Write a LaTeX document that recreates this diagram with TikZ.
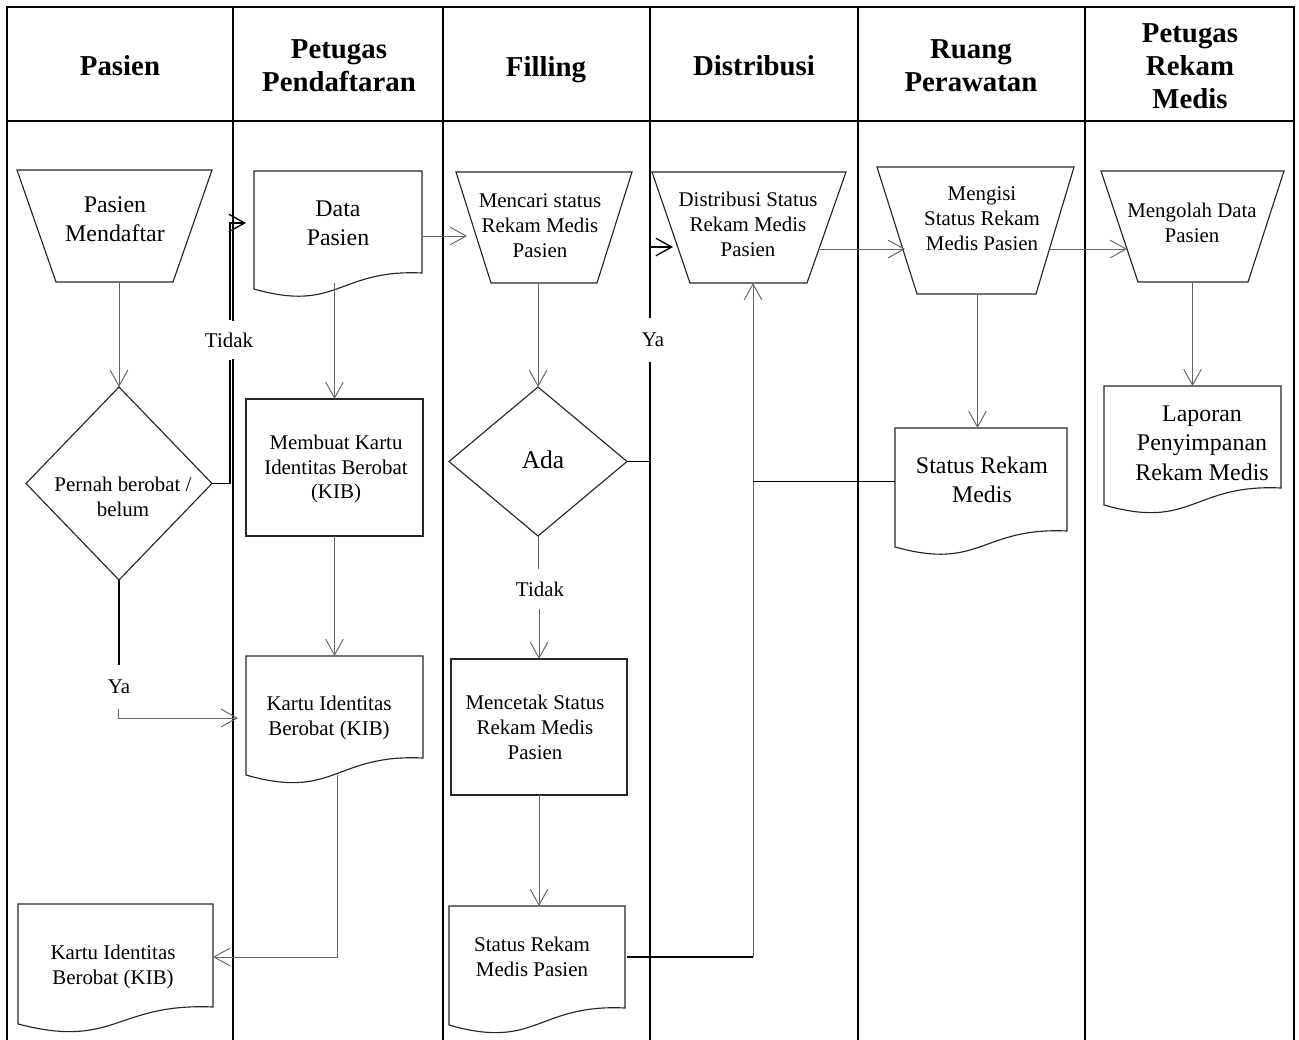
\documentclass[tikz,border=0pt]{standalone}
\usepackage{fontspec}
\setmainfont{Liberation Serif}
\usetikzlibrary{arrows.meta,calc,fit}
\newcommand\trapz[7]{%
  \draw[shp] (#2,#4) -- (#3,#4) -- (#6,#7) -- (#5,#7) -- cycle;
  \node[box,fit={(#2,#4) (#3,#7)}] (#1) {};}
\newcommand\docz[6]{%
  \draw[shp] (#2,#5) -- (#2,#3) -- (#4,#3) -- (#4,#6)
    .. controls ({(#2+#4)/2},{#6-0.25*(#5-#6)}) and ({(#2+#4)/2},{#5+1.5*(#5-#6)}) .. (#2,#5) -- cycle;
  \node[box,fit={(#2,#3) (#4,#5)}] (#1) {};}
\newcommand\diam[5]{%
  \draw[shp] ({#2},{#3-#5}) -- ({#2+#4},{#3}) -- ({#2},{#3+#5}) -- ({#2-#4},{#3}) -- cycle;
  \node[box,fit={({#2-#4},{#3-#5}) ({#2+#4},{#3+#5})}] (#1) {};}
\begin{document}
\begin{tikzpicture}[x=0.02cm,y=-0.02cm,
  lane/.style={line width=1.5pt,draw=black},
  shp/.style={draw=black!85,line width=0.65pt},
  box/.style={inner sep=0pt,outer sep=0pt},
  conn/.style={draw=black!60,line width=0.55pt,-{Straight Barb[length=9pt,width=10pt]}},
  connb/.style={draw=black,line width=0.75pt,-{Straight Barb[length=9pt,width=10pt]}},
  plain/.style={draw=black,line width=0.75pt},
  plaing/.style={draw=black!60,line width=0.55pt},
  hd/.style={font=\bfseries\fontsize{16.4pt}{18.7pt}\selectfont,align=center},
  tl/.style={font=\fontsize{13.6pt}{16.7pt}\selectfont,align=center,inner sep=0pt},
  ts/.style={font=\fontsize{11.9pt}{14.2pt}\selectfont,align=center,inner sep=0pt},
  lbl/.style={font=\fontsize{11.9pt}{14.2pt}\selectfont,fill=white,inner sep=1pt}]
\useasboundingbox (0,0) rectangle (1299,1040);

% lanes
\draw[lane] (7,1040) -- (7,7) -- (1294,7) -- (1294,1040);
\draw[lane] (7,121) -- (1294,121);
\foreach \x in {233,443,650,858,1085} \draw[lane] (\x,7) -- (\x,1040);

% headers
\node[hd] (h1) at (120,66) {Pasien};
\node[hd] (h2) at (339,66) {Petugas\\Pendaftaran};
\node[hd] (h3) at (546,70) {Filling};
\node[hd] (h4) at (754,66) {Distribusi};
\node[hd] (h5) at (971,66) {Ruang\\Perawatan};
\node[hd] (h6) at (1190,66) {Petugas\\Rekam\\Medis};

% shapes
\trapz{pm}{17}{212}{170}{56}{173}{282}
\trapz{mc}{456}{632}{172}{491}{597}{283}
\trapz{ds}{652}{846}{172}{690}{807}{283}
\trapz{mg}{877}{1074}{167}{917}{1036}{294}
\trapz{mo}{1101}{1284}{171}{1138}{1248}{282}
\docz{dp}{254}{171}{422}{289}{273}
\docz{kb}{246}{656}{423}{775}{758}
\docz{kp}{18}{904}{213}{1024}{1007}
\docz{sp}{449}{906}{625}{1025}{1008}
\docz{sr}{895}{428}{1067}{547}{531}
\docz{lp}{1104}{386}{1281}{505}{488}
\diam{d1}{119}{483.5}{93}{96.5}
\diam{ad}{538}{461.5}{89}{74.5}
\node[shp,box,fit={(246,399) (423,536)}] (mb) {};
\node[shp,box,fit={(451,659) (627,795)}] (mt) {};

% texts
\node[tl] (t-pm) at (115,219) {Pasien\\Mendaftar};
\node[tl] (t-dp) at (338,223) {Data\\Pasien};
\node[ts] (t-mc) at (540,226) {Mencari status\\Rekam Medis\\Pasien};
\node[ts] (t-ds) at (748,224) {Distribusi Status\\Rekam Medis\\Pasien};
\node[ts] (t-mg) at (982,219) {Mengisi\\Status Rekam\\Medis Pasien};
\node[ts] (t-mo) at (1192,223) {Mengolah Data\\Pasien};
\node[ts] (t-d1) at (123,497) {Pernah berobat /\\belum};
\node[ts] (t-mb) at (336,469) {Membuat Kartu\\Identitas Berobat\\(KIB)};
\node[font=\fontsize{14.5pt}{17pt}\selectfont,inner sep=0pt] (t-ad) at (543,460) {Ada};
\node[ts] (t-kb) at (329,718) {Kartu Identitas\\Berobat (KIB)};
\node[ts] (t-mt) at (535,727) {Mencetak Status\\Rekam Medis\\Pasien};
\node[ts] (t-sp) at (532,957) {Status Rekam\\Medis Pasien};
\node[ts] (t-kp) at (113,967) {Kartu Identitas\\Berobat (KIB)};
\node[tl] (t-sr) at (982,480) {Status Rekam\\Medis};
\node[tl] (t-lp) at (1202,443) {Laporan\\Penyimpanan\\Rekam Medis};

% connector labels
\node[lbl,minimum height=22pt] (l-t1) at (229,340) {Tidak};
\node[lbl,minimum height=25pt] (l-y1) at (653,340) {Ya};
\node[lbl,minimum height=25pt] (l-y2) at (119,687) {Ya};
\node[lbl,minimum height=22.7pt] (l-t2) at (540,589) {Tidak};

% connectors
\draw[conn] (d1.north |- pm.south) -- (d1.north);
\coordinate (a1) at ($(d1.east)+(18,0)$);
\draw[plain] (d1.east) -- (a1) -- (a1 |- l-t1.south);
\draw[connb] (a1 |- l-t1.north) |- ($(dp.west)+(-8,-7)$);
\draw[plain] (d1.south) -- (d1.south |- l-y2.north);
\draw[conn] ($(d1.south |- l-y2.south)+(-1,0)$) |- ($(kb.west)+(-8,2.5)$);
\draw[conn] ($(mb.north |- dp.south)+(0,-6)$) -- (mb.north);
\draw[conn] (mb.south) -- (kb.north);
\coordinate (kbo) at ($(kb.south)+(3,0)$);
\draw[conn] (kbo) |- ($(kp.east)+(0,-7)$);
\draw[conn] ($(dp.east)+(0,6)$) -- ($(mc.west)+(11,8.5)$);
\draw[conn] (ad.north |- mc.south) -- (ad.north);
\coordinate (yx) at ($(ds.west)+(-2,19.5)$);
\draw[plain] (ad.east) -| (yx |- l-y1.south);
\draw[connb] (yx |- l-y1.north) -- (yx) -- ($(ds.west)+(21,19.5)$);
\draw[plaing] (ad.south) -- (ad.south |- l-t2.north);
\draw[conn] (mt.north |- l-t2.south) -- (mt.north);
\draw[conn] (mt.south) -- (mt.south |- sp.north);
\coordinate (dsin) at ($(ds.south)+(4,0)$);
\coordinate (spo) at ($(sp.east)+(2,-8.5)$);
\draw[plain] (spo) -- (dsin |- spo);
\draw[conn] (dsin |- spo) -- (dsin);
\coordinate (sro) at ($(sr.west)+(0,-6)$);
\draw[plain] (sro) -- (dsin |- sro);
\draw[conn] ($(ds.east)+(-26,21.5)$) -- ($(mg.west)+(28,18.5)$);
\draw[conn] ($(mg.east)+(-24,18.5)$) -- ($(mo.west)+(26,22.5)$);
\coordinate (mgo) at ($(mg.south)+(2,0)$);
\draw[conn] (mgo) -- (mgo |- sr.north);
\draw[conn] (mo.south) -- (lp.north);
\end{tikzpicture}
\end{document}
